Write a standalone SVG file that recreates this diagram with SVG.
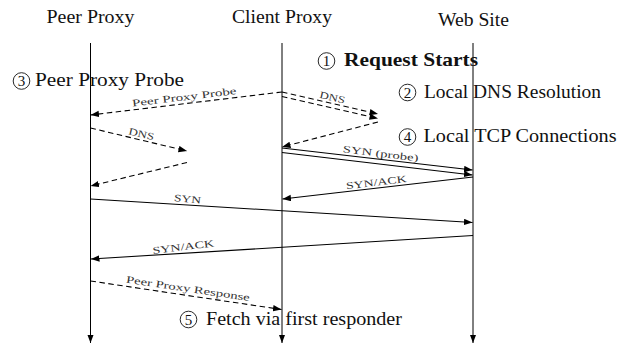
<svg xmlns="http://www.w3.org/2000/svg" width="628" height="346" viewBox="0 0 628 346">
<defs>
<marker id="ah" markerUnits="userSpaceOnUse" markerWidth="9" markerHeight="7" refX="8.5" refY="3.2" orient="auto">
<path d="M0,0 L8.5,3.2 L0,6.4 z" fill="#000"/>
</marker>
</defs>
<style>
.hd{font-family:"Liberation Serif","DejaVu Serif",serif;font-size:19px;fill:#111;text-anchor:middle}
.nt{font-family:"Liberation Serif","DejaVu Serif",serif;font-size:19px;fill:#111}
.b{font-weight:bold}
.dg{font-family:"Liberation Serif","DejaVu Serif",serif;font-size:15px;fill:#111;text-anchor:middle}
.cc{fill:none;stroke:#111;stroke-width:0.9}
.life{stroke:#000;stroke-width:1;fill:none}
.msg{stroke:#000;stroke-width:1.1;fill:none}
.dash{stroke-dasharray:5.5 3.5}
.lb{font-family:"Liberation Serif","DejaVu Serif",serif;font-size:10px;fill:#333;text-anchor:middle}
</style>
<rect width="628" height="346" fill="#fff"/>

<g id="peer-proxy">
<text class="hd" x="90.5" y="22.7" textLength="88" lengthAdjust="spacingAndGlyphs">Peer Proxy</text>
<line class="life" x1="90.5" y1="43" x2="90.5" y2="343" marker-end="url(#ah)"/>
</g>
<g id="client-proxy">
<text class="hd" x="282" y="22.7" textLength="100" lengthAdjust="spacingAndGlyphs">Client Proxy</text>
<line class="life" x1="282" y1="43" x2="282" y2="343" marker-end="url(#ah)"/>
</g>
<g id="web-site">
<text class="hd" x="473.5" y="26" textLength="71" lengthAdjust="spacingAndGlyphs">Web Site</text>
<line class="life" x1="473" y1="43" x2="473" y2="343" marker-end="url(#ah)"/>
</g>

<g id="step1">
<circle class="cc" cx="326.5" cy="61" r="8.3"/>
<text class="dg" x="326.5" y="66.2">1</text>
<text class="nt b" x="344" y="66" textLength="134" lengthAdjust="spacingAndGlyphs">Request Starts</text>
</g>
<g id="step2">
<circle class="cc" cx="407.5" cy="92.5" r="8.3"/>
<text class="dg" x="407.5" y="97.7">2</text>
<text class="nt" x="424" y="98" textLength="177" lengthAdjust="spacingAndGlyphs">Local DNS Resolution</text>
</g>
<g id="step3">
<circle class="cc" cx="21.5" cy="81" r="8.3"/>
<text class="dg" x="21.5" y="86.2">3</text>
<text class="nt" x="35" y="86" textLength="149" lengthAdjust="spacingAndGlyphs">Peer Proxy Probe</text>
</g>
<g id="step4">
<circle class="cc" cx="407.5" cy="137" r="8.3"/>
<text class="dg" x="407.5" y="142.2">4</text>
<text class="nt" x="423.5" y="142" textLength="193" lengthAdjust="spacingAndGlyphs">Local TCP Connections</text>
</g>
<g id="step5">
<circle class="cc" cx="188.5" cy="319.5" r="8.3"/>
<text class="dg" x="188.5" y="324.7">5</text>
<text class="nt" x="206" y="324.5" textLength="196" lengthAdjust="spacingAndGlyphs">Fetch via first responder</text>
</g>

<g id="connectors">
<line class="msg dash" x1="282" y1="92" x2="90.5" y2="115" marker-end="url(#ah)"/>
<text class="lb" transform="translate(185,103.7) rotate(-6.85)" y="-3.5" textLength="105" lengthAdjust="spacingAndGlyphs">Peer Proxy Probe</text>

<line class="msg dash" x1="282" y1="92" x2="378" y2="114" marker-end="url(#ah)"/>
<line class="msg dash" x1="282" y1="96.5" x2="378" y2="118.5" marker-end="url(#ah)"/>
<text class="lb" transform="translate(331,103.2) rotate(12.9)" y="-2.5" textLength="26" lengthAdjust="spacingAndGlyphs">DNS</text>
<line class="msg dash" x1="378" y1="122" x2="282" y2="147" marker-end="url(#ah)"/>

<line class="msg dash" x1="90.5" y1="128" x2="187" y2="151" marker-end="url(#ah)"/>
<text class="lb" transform="translate(140,139.7) rotate(13.4)" y="-2.5" textLength="26" lengthAdjust="spacingAndGlyphs">DNS</text>
<line class="msg dash" x1="187" y1="162.5" x2="90.5" y2="186" marker-end="url(#ah)"/>

<line class="msg" x1="282" y1="148" x2="472.5" y2="170" marker-end="url(#ah)"/>
<line class="msg" x1="282" y1="152.5" x2="472.5" y2="175" marker-end="url(#ah)"/>
<text class="lb" transform="translate(380,159.3) rotate(7)" y="-2.5" textLength="76" lengthAdjust="spacingAndGlyphs">SYN (probe)</text>

<line class="msg" x1="473" y1="177" x2="282.5" y2="199" marker-end="url(#ah)"/>
<text class="lb" transform="translate(377,188.1) rotate(-7)" y="-2.5" textLength="61" lengthAdjust="spacingAndGlyphs">SYN/ACK</text>

<line class="msg" x1="90.5" y1="199" x2="472.5" y2="222.5" marker-end="url(#ah)"/>
<text class="lb" transform="translate(187,204.8) rotate(6)" y="-2.5" textLength="27" lengthAdjust="spacingAndGlyphs">SYN</text>

<line class="msg" x1="473" y1="235.5" x2="91" y2="259" marker-end="url(#ah)"/>
<text class="lb" transform="translate(184,253.2) rotate(-7)" y="-3" textLength="62" lengthAdjust="spacingAndGlyphs">SYN/ACK</text>

<line class="msg dash" x1="90.5" y1="281" x2="281.5" y2="309.5" marker-end="url(#ah)"/>
<text class="lb" transform="translate(187,295.3) rotate(8.5)" y="-3.5" textLength="125" lengthAdjust="spacingAndGlyphs">Peer Proxy Response</text>
</g>
</svg>
